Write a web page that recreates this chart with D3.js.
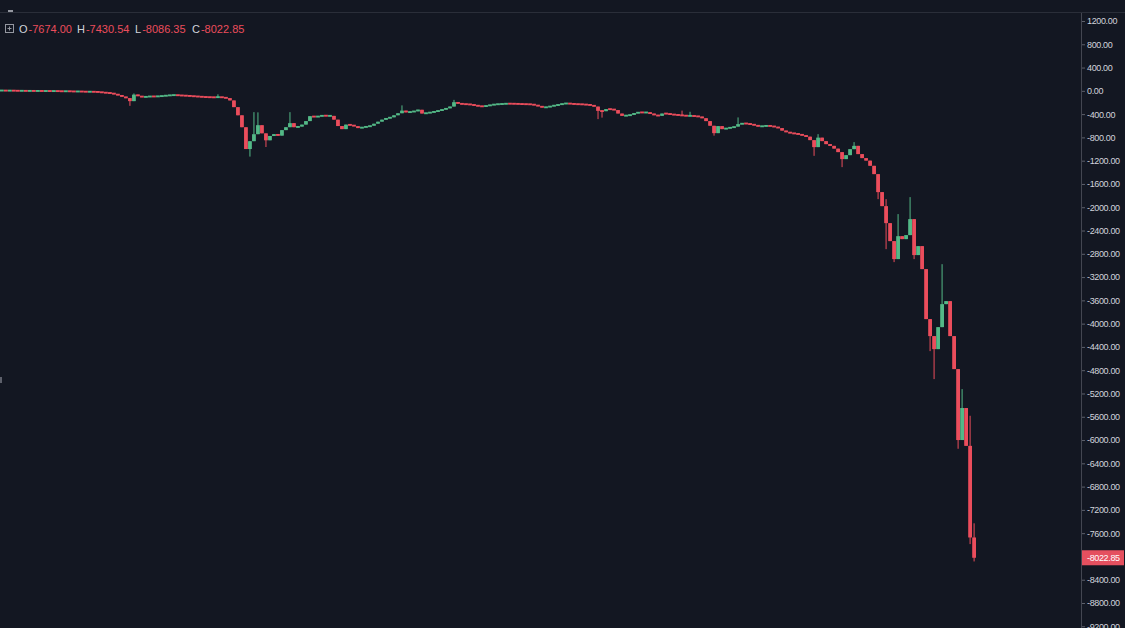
<!DOCTYPE html>
<html>
<head>
<meta charset="utf-8">
<script src="https://cdn.jsdelivr.net/npm/d3@7"></script>
<style>
  html, body { margin: 0; padding: 0; background: #131722; overflow: hidden; }
  svg { display: block; }
</style>
</head>
<body>
<svg id="chart" width="1125" height="628"></svg>
<script>
// ---- DATA ----
// Close of each candle; each candle opens at the previous candle's close.
const closes = [
  5, 3, 4, 2, 0, 1, -2, 0, -3, -1, -4, -2, -5, -3, -6, -8, -6, -9, -12, -10, -14, -16, -15, -18, -20,
  -30, -35, -40, -57, -75, -100, -125, -177,
  -65, -90, -108, -100, -95, -98, -92, -88, -80, -75, -72, -78, -82, -85, -90, -95, -100, -105, -108, -110, -112, -105, -115, -125,
  -165, -280, -420, -625, -1000, -865, -745, -590, -730, -850,
  -775, -745, -770, -675, -625, -555, -625, -615, -580, -520,
  -435, -450, -435, -425, -430, -430, -495, -605, -658, -580,
  -590, -606, -640, -625, -615, -600, -565, -530, -495, -470,
  -455, -420, -385, -340, -370, -360, -350, -325, -390, -380,
  -370, -355, -340, -320, -300, -270, -195, -220, -228, -230,
  -237, -250, -263, -268, -255, -243, -232, -228, -225, -220,
  -222, -223, -226, -228, -230, -232, -245, -263, -285, -280,
  -262, -250, -237, -220, -216, -223, -228, -230, -233, -240,
  -245, -270, -344, -350, -314, -315, -330, -390, -430, -423,
  -412, -383, -370, -372, -372, -392, -418, -430, -390, -392,
  -405, -412, -418, -425, -430, -430, -435, -443, -470, -520,
  -600, -727, -606, -658, -640, -632, -615, -572, -560, -563,
  -577, -590, -612, -606, -600, -606, -620, -640, -684, -710,
  -727, -735, -747, -766, -787, -847, -967, -804, -864, -916,
  -945, -993, -1053, -1173, -1105, -1002, -945, -1087, -1156, -1199,
  -1288, -1431, -1740, -1981, -2273, -2582, -2891, -2497, -2548, -2479,
  -2204, -2822, -2668, -3063, -3922, -4214, -4438, -4060, -3665, -3613,
  -4214, -4781, -6000, -5450, -6100, -7674, -8022.85
];
// Candles whose wicks reach beyond the body: [candle index, high, low] (null = body edge)
const wicks = [
  [32, null, -258], [33, -45, null], [54, -60, null], [62, null, -1130], [63, -366, null],
  [64, -370, null], [66, null, -965], [72, -366, null], [100, -250, null], [113, -155, null],
  [149, null, -486], [150, null, -460], [170, -340, null], [172, -360, null], [178, null, -770],
  [184, -457, null], [203, null, -1117], [204, -744, null], [210, null, -1311], [213, -881, null],
  [219, null, -1861], [221, -1861, -2720], [223, null, -2943], [224, -2118, null], [227, -1826, null],
  [228, null, -2891], [232, null, -4472], [233, null, -4953], [235, -2978, null], [239, null, -6150],
  [240, -5125, null], [242, -5583, -7788], [243, -7430.54, -8086.35]
];
// Price axis tick labels
const tickValues = [1200, 800, 400, 0, -400, -800, -1200, -1600, -2000, -2400, -2800, -3200, -3600,
  -4000, -4400, -4800, -5200, -5600, -6000, -6400, -6800, -7200, -7600, -8000, -8400, -8800, -9200];
const hiddenTicks = [-8000];      // covered by the last-price label
const legendItems = [["O", "-7674.00"], ["H", "-7430.54"], ["L", "-8086.35"], ["C", "-8022.85"]];
const lastPrice = -8022.85;

// ---- BUILD CANDLES ----
const wickMap = new Map(wicks.map(w => [w[0], w]));
const candles = closes.map((c, i) => {
  const o = i === 0 ? c : closes[i - 1];
  const w = wickMap.get(i);
  const hi = w && w[1] != null ? w[1] : Math.max(o, c);
  const lo = w && w[2] != null ? w[2] : Math.min(o, c);
  return { i, o, c, h: hi, l: lo };
});

const UP = "#53b987", DOWN = "#eb4d5c", BG = "#131722";
const svg = d3.select("#chart");
const W = 1125, H = 628, axisX = 1081;

svg.append("rect").attr("width", W).attr("height", H).attr("fill", BG);

const x = d3.scaleBand().domain(candles.map(d => d.i)).range([0, 976]).paddingInner(0.05);
const y = d3.scaleLinear().domain([1200, -8800]).range([21, 603]);

// top bar and separators
svg.append("line").attr("x1", 0).attr("x2", W).attr("y1", 12.5).attr("y2", 12.5)
  .attr("stroke", "#2a2e39").attr("stroke-width", 1);
svg.append("rect").attr("x", 8).attr("y", 10).attr("width", 5).attr("height", 2).attr("fill", "#9598a1");
svg.append("rect").attr("x", 0).attr("y", 377).attr("width", 2).attr("height", 6).attr("fill", "#5d606b");

// candles
const g = svg.append("g");
const bw = x.bandwidth();
const MINH = 1.9;
g.selectAll("line.wick").data(candles).join("line")
  .attr("class", "wick")
  .attr("x1", d => x(d.i) + bw / 2).attr("x2", d => x(d.i) + bw / 2)
  .attr("y1", d => y(d.h)).attr("y2", d => y(d.l))
  .attr("stroke", d => d.c >= d.o ? UP : DOWN).attr("stroke-width", 1);
g.selectAll("rect.body").data(candles).join("rect")
  .attr("class", "body")
  .attr("x", d => x(d.i))
  .attr("width", bw)
  .attr("y", d => {
    const top = y(Math.max(d.o, d.c)), bot = y(Math.min(d.o, d.c));
    return bot - top < MINH ? (top + bot) / 2 - MINH / 2 : top;
  })
  .attr("height", d => Math.max(MINH, y(Math.min(d.o, d.c)) - y(Math.max(d.o, d.c))))
  .attr("fill", d => d.c >= d.o ? UP : DOWN);

// right price axis
const axis = d3.axisRight(y).tickValues(tickValues.filter(v => !hiddenTicks.includes(v)))
  .tickSize(4).tickPadding(2).tickFormat(d => d3.format(".2f")(d).replace("−", "-"));
const ax = svg.append("g").attr("transform", `translate(${axisX},0)`).call(axis);
ax.select(".domain").remove();
ax.selectAll(".tick line").attr("stroke", "#5d606b");
ax.selectAll(".tick text").attr("fill", "#d1d4dc")
  .style("font-family", "'Liberation Sans', Arial, sans-serif")
  .style("font-size", "9px").style("letter-spacing", "-0.35px");
svg.append("line").attr("x1", axisX + 0.5).attr("x2", axisX + 0.5).attr("y1", 13).attr("y2", H)
  .attr("stroke", "#434651").attr("stroke-width", 1);

// last price label
const ly = y(lastPrice);
svg.append("rect").attr("x", axisX + 1).attr("y", ly - 7.5).attr("width", 42).attr("height", 15)
  .attr("fill", "#e5505f");
svg.append("text").attr("x", axisX + 6).attr("y", ly).attr("dy", "0.35em")
  .attr("fill", "#ffffff").style("font-family", "'Liberation Sans', Arial, sans-serif")
  .style("font-size", "9px").style("letter-spacing", "-0.35px").text(d3.format(".2f")(lastPrice).replace("−", "-"));

// legend
const lg = svg.append("g");
lg.append("rect").attr("x", 5.5).attr("y", 24.5).attr("width", 8).attr("height", 8)
  .attr("fill", "none").attr("stroke", "#9598a1").attr("stroke-width", 1);
lg.append("line").attr("x1", 7.5).attr("x2", 11.5).attr("y1", 28.5).attr("y2", 28.5).attr("stroke", "#9598a1");
lg.append("line").attr("x1", 9.5).attr("x2", 9.5).attr("y1", 26.5).attr("y2", 30.5).attr("stroke", "#9598a1");
const legendX = [19, 77, 135, 192];
const lt = lg.selectAll("text").data(legendItems).join("text")
  .attr("x", (d, i) => legendX[i]).attr("y", 33)
  .style("font-family", "'Liberation Sans', Arial, sans-serif").style("font-size", "11px");
lt.append("tspan").attr("fill", "#d1d4dc").text(d => d[0]);
lt.append("tspan").attr("fill", DOWN).attr("dx", 1).text(d => d[1]);
</script>
</body>
</html>
